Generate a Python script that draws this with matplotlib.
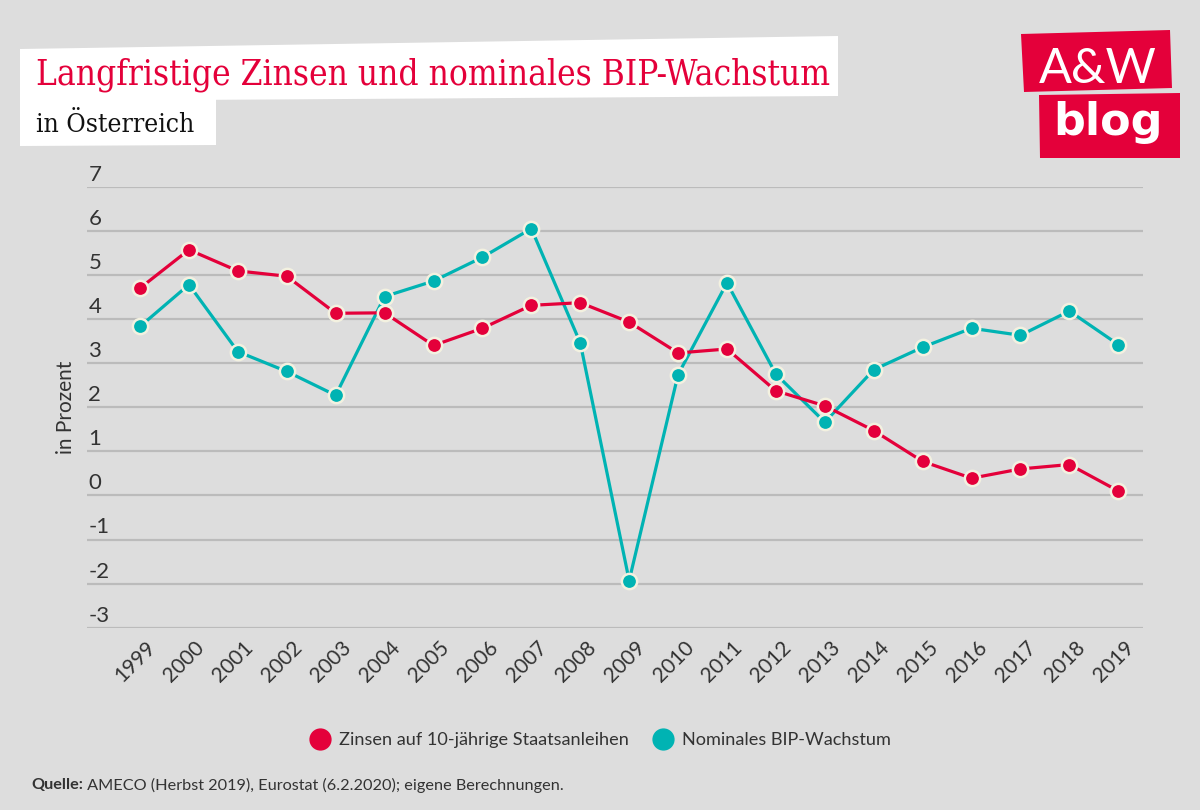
import matplotlib
matplotlib.use("Agg")
import matplotlib.pyplot as plt
from matplotlib.patches import Polygon
from matplotlib.lines import Line2D
from matplotlib.transforms import ScaledTranslation

# ---------------- data ----------------
years = list(range(1999, 2020))
zinsen = [4.7, 5.57, 5.09, 4.97, 4.13, 4.14, 3.40, 3.79, 4.31, 4.37, 3.93,
          3.23, 3.32, 2.37, 2.03, 1.47, 0.77, 0.39, 0.60, 0.70, 0.10]
bip = [3.83, 4.78, 3.26, 2.81, 2.27, 4.51, 4.86, 5.40, 6.05, 3.46, -1.93,
       2.74, 4.82, 2.75, 1.66, 2.85, 3.36, 3.79, 3.63, 4.18, 3.42]
yticks = [-3, -2, -1, 0, 1, 2, 3, 4, 5, 6, 7]
series_names = ["Zinsen auf 10-jährige Staatsanleihen", "Nominales BIP-Wachstum"]
title = "Langfristige Zinsen und nominales BIP-Wachstum"
subtitle = "in Österreich"
source_bold = "Quelle:"
source_rest = " AMECO (Herbst 2019), Eurostat (6.2.2020); eigene Berechnungen."

RED = "#E4003A"
TEAL = "#00B3B3"
BG = "#DDDDDD"
GRID = "#BBBBBB"
EDGE = "#F3F1E0"
TXT = "#333333"
SANS = ["Lato", "DejaVu Sans"]

W, H = 1200, 810
fig = plt.figure(figsize=(W / 100, H / 100), dpi=100, facecolor=BG)


def px(x, y):
    return (x / W, 1 - y / H)


# axes placement
ax = fig.add_axes([87 / W, (H - 627.7) / H, 1056 / W, 441 / H])
ax.set_facecolor(BG)
for s in ax.spines.values():
    s.set_visible(False)
ax.set_xlim(1997.916, 2019.505)
ax.set_ylim(-3, 7)
ax.set_yticks(yticks)
ax.set_yticklabels([str(t) for t in yticks])
ax.grid(axis="y", color=GRID, lw=1.6, zorder=0)
ax.set_axisbelow(True)
ax.tick_params(axis="y", length=0, pad=-1, labelsize=16, labelcolor=TXT)
ax.tick_params(axis="x", length=0, pad=4, labelsize=15, labelcolor=TXT)
for lab in ax.get_yticklabels():
    lab.set_horizontalalignment("left")
    lab.set_verticalalignment("bottom")
    lab.set_fontfamily(SANS)
    lab.set_transform(lab.get_transform() + ScaledTranslation(0, 1.5 / 72, fig.dpi_scale_trans))

ax.set_xticks(years)
ax.set_xticklabels([str(y) for y in years], rotation=45, ha="right",
                   rotation_mode="anchor", va="center")
for lab in ax.get_xticklabels():
    lab.set_fontfamily(SANS)
    lab.set_transform(lab.get_transform() + ScaledTranslation(9 / 72, -8 / 72, fig.dpi_scale_trans))

ax.set_ylabel("in Prozent", fontsize=15, color=TXT, family=SANS)
ax.yaxis.set_label_coords(-0.0104, 0.5)

ax.plot(years, bip, color=TEAL, lw=2.3, marker="o", ms=11, mfc=TEAL,
        mec=EDGE, mew=1.8, zorder=3, clip_on=False)
ax.plot(years, zinsen, color=RED, lw=2.3, marker="o", ms=11, mfc=RED,
        mec=EDGE, mew=1.8, zorder=4, clip_on=False)

# legend
handles = [Line2D([], [], ls="none", marker="o", ms=15, mfc=RED, mec=RED),
           Line2D([], [], ls="none", marker="o", ms=15, mfc=TEAL, mec=TEAL)]
leg = fig.legend(handles, series_names, loc="center", bbox_to_anchor=px(600, 740),
                 ncol=2, frameon=False, handletextpad=0.45, handlelength=1.2,
                 columnspacing=1.3, prop={"family": SANS, "size": 13.1})
for t in leg.get_texts():
    t.set_color(TXT)

# source
t1 = fig.text(*px(31, 785), source_bold, fontsize=11.7, fontweight="bold",
              color=TXT, family=SANS, va="center", ha="left")
fig.canvas.draw()
bb = t1.get_window_extent()
fig.text(bb.x1 / W, 1 - 785 / H, source_rest, fontsize=11.7, color=TXT,
         family=SANS, va="center", ha="left")

# title boxes
fig.add_artist(Polygon([px(20, 49), px(838, 36), px(838, 96), px(20, 101)],
                       closed=True, transform=fig.transFigure, fc="white", ec="none"))
fig.add_artist(Polygon([px(20, 100), px(216, 98), px(216, 145), px(20, 146)],
                       closed=True, transform=fig.transFigure, fc="white", ec="none"))
fig.text(*px(36, 85), title, fontsize=25.2, color=RED, family="DejaVu Serif",
         fontstretch="condensed", va="baseline", ha="left")
fig.text(*px(36, 132), subtitle, fontsize=19, color="#111111", family="DejaVu Serif",
         fontstretch="condensed", va="baseline", ha="left")

# logo
fig.add_artist(Polygon([px(1021, 34), px(1170, 30), px(1172, 88), px(1024, 92)],
                       closed=True, transform=fig.transFigure, fc=RED, ec="none"))
fig.add_artist(Polygon([px(1039, 95), px(1180, 93), px(1180, 158), px(1040, 158)],
                       closed=True, transform=fig.transFigure, fc=RED, ec="none"))
fig.text(*px(1098, 83), "A&W", fontsize=35, color="white", family=SANS,
         va="baseline", ha="center")
fig.text(*px(1108, 135), "blog", fontsize=32, color="white", family="DejaVu Sans",
         fontweight="bold", va="baseline", ha="center")

fig.savefig("out.png", dpi=100, facecolor=BG)
